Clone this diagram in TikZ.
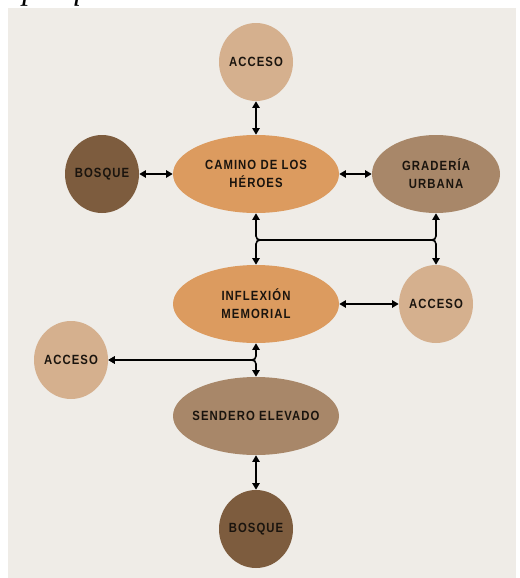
\documentclass[tikz,border=0pt]{standalone}
\usepackage{fontspec}
\setmainfont{Liberation Serif}
\newfontfamily\lblfont[LetterSpace=8,FakeStretch=0.85,BoldFont={Liberation Sans Bold},BoldFeatures={FakeStretch=0.85,LetterSpace=8}]{Liberation Sans}
\usetikzlibrary{shapes.geometric,arrows.meta}
\definecolor{bgc}{HTML}{EFECE7}
\definecolor{accc}{HTML}{D5B08E}
\definecolor{mainc}{HTML}{DC9B5F}
\definecolor{midc}{HTML}{A88769}
\definecolor{darkc}{HTML}{7D5C3E}
\definecolor{txtc}{HTML}{1A140E}
\begin{document}
\begin{tikzpicture}[x=0.75pt,y=-0.75pt,
  blob/.style={ellipse,inner sep=0pt,font=\lblfont\bfseries\fontsize{10pt}{13.5pt}\selectfont,text=txtc,align=center},
  bigblob/.style={blob,minimum width=124.5pt,minimum height=58.5pt},
  smallblob/.style={blob,minimum width=55.5pt,minimum height=58.5pt},
  conn/.style={line width=1.2pt,black,{Triangle[length=5pt,width=5.5pt]}-{Triangle[length=5pt,width=5.5pt]}},
  junc/.style={rounded corners=3pt}]
\useasboundingbox (0,0) rectangle (520,578);
\fill[bgc] (8,8) rectangle (516,578);
\node[anchor=base west,inner sep=0pt,font=\itshape\fontsize{24pt}{24pt}\selectfont] (cap) at (22,-1) {parque Conmemorativo};
% nodes
\node[smallblob,inner xsep=-8pt,fill=accc] (accT) at (256,62) {ACCESO};
\node[bigblob,inner xsep=-16pt,fill=mainc] (camino) at (256,174) {CAMINO DE LOS\\HÉROES};
\node[smallblob,inner xsep=-8pt,fill=darkc] (bosqueL) at (102,174) {BOSQUE};
\node[blob,inner xsep=-10pt,minimum width=96pt,minimum height=58.5pt,fill=midc] (grad) at (436,174) {GRADERÍA\\URBANA};
\node[bigblob,inner xsep=-16pt,fill=mainc] (inflex) at (256,304) {INFLEXIÓN\\MEMORIAL};
\node[smallblob,inner xsep=-8pt,fill=accc] (accR) at (436,304) {ACCESO};
\node[smallblob,inner xsep=-8pt,fill=accc] (accL) at (71,360) {ACCESO};
\node[bigblob,inner xsep=-22pt,fill=midc] (sendero) at (256,416) {SENDERO ELEVADO};
\node[smallblob,inner xsep=-8pt,fill=darkc] (bosqueB) at (256,529) {BOSQUE};
% junction points
\coordinate (j1) at (256,240);
\coordinate (j2) at (436,240);
\coordinate (j3) at (256,360);
% connectors
\draw[conn] (accT.south) -- (camino.north);
\draw[conn] (bosqueL.east) -- (camino.west);
\draw[conn] (camino.east) -- (grad.west);
\draw[conn,junc] (camino.south) -- (j1) -- (j2) -- (accR.north);
\draw[conn,junc] (grad.south) -- (j2) -- (j1) -- (inflex.north);
\draw[conn] (inflex.east) -- (accR.west);
\draw[conn,junc] (inflex.south) -- (j3) -- (accL.east);
\draw[conn,junc] (accL.east) -- (j3) -- (sendero.north);
\draw[conn] (sendero.south) -- (bosqueB.north);
\end{tikzpicture}
\end{document}
